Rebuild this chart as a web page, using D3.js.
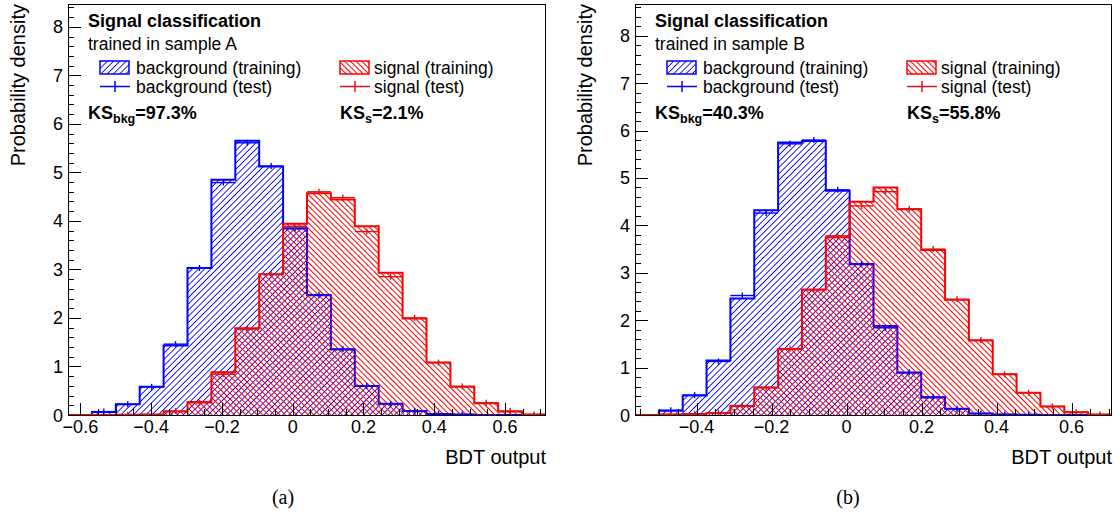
<!DOCTYPE html>
<html>
<head>
<meta charset="utf-8">
<script src="https://cdn.jsdelivr.net/npm/d3@7"></script>
<style>
  body { margin: 0; background: #fff; }
  svg { display: block; }
  text { font-family: "Liberation Sans", Arial, Helvetica, sans-serif; fill: #000; }
  .caption { font-family: "Liberation Serif", "DejaVu Serif", serif; }
</style>
</head>
<body>
<svg id="fig" width="1119" height="523"></svg>
<script>
// ---- BDT output distributions, 20 bins each (probability density) ----
const bkgTrainA = [0, 0.06, 0.22, 0.58, 1.43, 3.03, 4.85, 5.65, 5.12, 3.85, 2.47, 1.35, 0.60, 0.23, 0.08, 0.02, 0.01, 0, 0, 0];
const bkgTestA  = [0, 0.07, 0.22, 0.58, 1.46, 3.03, 4.79, 5.61, 5.13, 3.84, 2.48, 1.36, 0.60, 0.23, 0.08, 0.02, 0.01, 0, 0, 0];
const sigTrainA = [0, 0, 0.005, 0.01, 0.07, 0.27, 0.88, 1.79, 2.90, 3.94, 4.57, 4.44, 3.89, 2.93, 1.99, 1.08, 0.58, 0.24, 0.07, 0.01];
const sigTestA  = [0, 0, 0.005, 0.01, 0.08, 0.25, 0.84, 1.77, 2.90, 3.89, 4.60, 4.48, 3.78, 2.85, 2.00, 1.08, 0.59, 0.25, 0.08, 0.01];

const bkgTrainB = [0, 0.09, 0.41, 1.15, 2.46, 4.32, 5.75, 5.78, 4.73, 3.18, 1.88, 0.89, 0.37, 0.13, 0.03, 0.01, 0.005, 0, 0, 0];
const bkgTestB  = [0, 0.10, 0.42, 1.13, 2.52, 4.26, 5.72, 5.80, 4.75, 3.19, 1.84, 0.90, 0.38, 0.13, 0.03, 0.01, 0.005, 0, 0, 0];
const sigTrainB = [0, 0.01, 0.02, 0.04, 0.19, 0.58, 1.39, 2.64, 3.75, 4.50, 4.80, 4.34, 3.48, 2.43, 1.57, 0.86, 0.47, 0.18, 0.06, 0.01];
const sigTestB  = [0, 0.01, 0.02, 0.05, 0.20, 0.58, 1.40, 2.65, 3.78, 4.41, 4.71, 4.35, 3.50, 2.44, 1.58, 0.86, 0.47, 0.18, 0.06, 0.01];

// histogram ranges (BDT output) and axis ranges
const rangeA = [-0.635, 0.716];
const rangeB = [-0.564, 0.708];
const yMaxA = 8.47;
const yMaxB = 8.67;

// tick values
const xTicksA = [-0.6, -0.4, -0.2, 0, 0.2, 0.4, 0.6];
const xTicksB = [-0.4, -0.2, 0, 0.2, 0.4, 0.6];
const yTicks = [0, 1, 2, 3, 4, 5, 6, 7, 8];

// texts
const sampleLabels = ["trained in sample A", "trained in sample B"];
const ksBkg = ["97.3%", "40.3%"];
const ksSig = ["2.1%", "55.8%"];
const captions = ["(a)", "(b)"];
const legendLabels = ["background (training)", "background (test)", "signal (training)", "signal (test)"];

const BLUE = "#0000ff", RED = "#ff0000", RED_TEST = "#dd1414";

const svg = d3.select("#fig");
const defs = svg.append("defs");

// single-pixel hatching, drawn without anti-aliasing
function hatch(id, color, angle, spacing) {
  const p = defs.append("pattern")
    .attr("id", id)
    .attr("patternUnits", "userSpaceOnUse")
    .attr("width", spacing).attr("height", 20)
    .attr("patternTransform", `rotate(${angle})`);
  p.append("line")
    .attr("x1", 0.5).attr("x2", 0.5).attr("y1", -1).attr("y2", 21)
    .attr("stroke", color).attr("stroke-width", 1)
    .attr("shape-rendering", "crispEdges");
}
hatch("hatchBkg", BLUE, 45, 4.4);
hatch("hatchSig", RED, -45, 4.0);

const panels = [
  { key: "A", frame: { x0: 68, x1: 546, y0: 4, y1: 415 }, range: rangeA, yMax: yMaxA, xTicks: xTicksA,
    bkgTrain: bkgTrainA, bkgTest: bkgTestA, sigTrain: sigTrainA, sigTest: sigTestA, capX: 283 },
  { key: "B", frame: { x0: 635, x1: 1112, y0: 4, y1: 415 }, range: rangeB, yMax: yMaxB, xTicks: xTicksB,
    bkgTrain: bkgTrainB, bkgTest: bkgTestB, sigTrain: sigTrainB, sigTest: sigTestB, capX: 848 }
];

const fmt = v => (Math.abs(v) < 1e-9 ? "0" : d3.format(".1f")(v));

panels.forEach((p, pi) => {
  const f = p.frame;
  const x = d3.scaleLinear().domain(p.range).range([f.x0, f.x1]);
  const y = d3.scaleLinear().domain([0, p.yMax]).range([f.y1, f.y0]);
  const nb = p.bkgTrain.length;
  const edges = d3.range(nb + 1).map(i => p.range[0] + i * (p.range[1] - p.range[0]) / nb);

  const g = svg.append("g");
  const clipId = "clip" + p.key;
  defs.append("clipPath").attr("id", clipId)
    .append("rect").attr("x", f.x0).attr("y", f.y0).attr("width", f.x1 - f.x0).attr("height", f.y1 - f.y0);
  const plot = g.append("g").attr("clip-path", `url(#${clipId})`);

  function stepPoints(vals) {
    const pts = [[x(edges[0]), y(0)]];
    vals.forEach((v, i) => { pts.push([x(edges[i]), y(v)]); pts.push([x(edges[i + 1]), y(v)]); });
    pts.push([x(edges[nb]), y(0)]);
    return pts;
  }
  const line = d3.line();

  function drawTrain(vals, pattern, color) {
    const pts = stepPoints(vals);
    plot.append("path").attr("d", line(pts) + "Z").attr("fill", `url(#${pattern})`).attr("stroke", "none");
    plot.append("path").attr("d", line(pts)).attr("fill", "none")
      .attr("stroke", color).attr("stroke-width", 2).attr("stroke-linejoin", "miter");
  }
  function drawTest(vals, color) {
    const gg = plot.append("g").attr("stroke", color).attr("stroke-width", 1.4).attr("fill", "none");
    vals.forEach((v, i) => {
      if (v <= 0) return;
      const xa = x(edges[i]), xb = x(edges[i + 1]), xc = (xa + xb) / 2, yy = y(v);
      gg.append("line").attr("x1", xa).attr("x2", xb).attr("y1", yy).attr("y2", yy);
      gg.append("line").attr("x1", xc).attr("x2", xc).attr("y1", yy - 3).attr("y2", yy + 3);
    });
  }

  drawTrain(p.bkgTrain, "hatchBkg", BLUE);
  drawTrain(p.sigTrain, "hatchSig", RED);
  drawTest(p.bkgTest, BLUE);
  drawTest(p.sigTest, RED_TEST);

  // frame
  g.append("rect").attr("x", f.x0 + 0.5).attr("y", f.y0 + 0.5)
    .attr("width", f.x1 - f.x0 - 1).attr("height", f.y1 - f.y0)
    .attr("fill", "none").attr("stroke", "#000").attr("stroke-width", 1);

  // x axis ticks
  const axis = g.append("g").attr("stroke", "#000").attr("stroke-width", 1);
  const xMinor = d3.range(Math.ceil(p.range[0] / 0.05) * 0.05, p.range[1], 0.05)
    .filter(v => !p.xTicks.some(t => Math.abs(t - v) < 1e-6));
  xMinor.forEach(v => {
    const xx = Math.round(x(v)) + 0.5;
    axis.append("line").attr("x1", xx).attr("x2", xx).attr("y1", f.y1).attr("y2", f.y1 - 6);
  });
  p.xTicks.forEach(v => {
    const xx = Math.round(x(v)) + 0.5;
    axis.append("line").attr("x1", xx).attr("x2", xx).attr("y1", f.y1).attr("y2", f.y1 - 12);
  });
  g.selectAll(null).data(p.xTicks).enter().append("text")
    .attr("x", d => x(d)).attr("y", 433)
    .attr("text-anchor", "middle").attr("font-size", 18)
    .text(fmt);

  // y axis ticks
  const yMinor = d3.range(0.2, p.yMax, 0.2).filter(v => Math.abs(v - Math.round(v)) > 1e-6);
  yMinor.forEach(v => {
    const yy = Math.round(y(v)) + 0.5;
    axis.append("line").attr("x1", f.x0).attr("x2", f.x0 + 6).attr("y1", yy).attr("y2", yy);
  });
  yTicks.forEach(v => {
    const yy = Math.round(y(v)) + 0.5;
    axis.append("line").attr("x1", f.x0).attr("x2", f.x0 + 13).attr("y1", yy).attr("y2", yy);
  });
  g.selectAll(null).data(yTicks).enter().append("text")
    .attr("x", f.x0 - 5).attr("y", d => y(d) + 6.5)
    .attr("text-anchor", "end").attr("font-size", 18)
    .text(d => d);

  // axis titles
  g.append("text").attr("transform", `translate(${f.x0 - 43},${f.y0}) rotate(-90)`)
    .attr("text-anchor", "end").attr("font-size", 20).text("Probability density");
  g.append("text").attr("x", f.x1).attr("y", 464)
    .attr("text-anchor", "end").attr("font-size", 20).text("BDT output");

  // legend
  const lx = f.x0 + 20;
  g.append("text").attr("x", lx).attr("y", 27).attr("font-size", 18).attr("font-weight", "bold")
    .text("Signal classification");
  g.append("text").attr("x", lx).attr("y", 50).attr("font-size", 17.5).text(sampleLabels[pi]);

  const cols = [
    { sx: f.x0 + 32, tx: f.x0 + 68, pattern: "hatchBkg", color: BLUE, test: BLUE, labels: [legendLabels[0], legendLabels[1]] },
    { sx: f.x0 + 272, tx: f.x0 + 306, pattern: "hatchSig", color: RED, test: RED_TEST, labels: [legendLabels[2], legendLabels[3]] }
  ];
  cols.forEach(c => {
    g.append("rect").attr("x", c.sx).attr("y", 61).attr("width", 29).attr("height", 13)
      .attr("fill", `url(#${c.pattern})`).attr("stroke", c.color).attr("stroke-width", 1.5);
    g.append("text").attr("x", c.tx).attr("y", 74).attr("font-size", 17.5).text(c.labels[0]);
    g.append("line").attr("x1", c.sx).attr("x2", c.sx + 30).attr("y1", 86.5).attr("y2", 86.5)
      .attr("stroke", c.test).attr("stroke-width", 1.5);
    g.append("line").attr("x1", c.sx + 15).attr("x2", c.sx + 15).attr("y1", 81).attr("y2", 92)
      .attr("stroke", c.test).attr("stroke-width", 1.5);
    g.append("text").attr("x", c.tx).attr("y", 93).attr("font-size", 17.5).text(c.labels[1]);
  });

  // KS test results
  const ks1 = g.append("text").attr("x", lx).attr("y", 119).attr("font-size", 18).attr("font-weight", "bold");
  ks1.append("tspan").text("KS");
  ks1.append("tspan").attr("font-size", 12.5).attr("dy", 4).text("bkg");
  ks1.append("tspan").attr("dy", -4).text("=" + ksBkg[pi]);
  const ks2 = g.append("text").attr("x", f.x0 + 272).attr("y", 119).attr("font-size", 18).attr("font-weight", "bold");
  ks2.append("tspan").text("KS");
  ks2.append("tspan").attr("font-size", 12.5).attr("dy", 4).text("s");
  ks2.append("tspan").attr("dy", -4).text("=" + ksSig[pi]);

  // sub-figure caption
  svg.append("text").attr("class", "caption").attr("x", p.capX).attr("y", 504)
    .attr("text-anchor", "middle").attr("font-size", 20).text(captions[pi]);
});
</script>
</body>
</html>
